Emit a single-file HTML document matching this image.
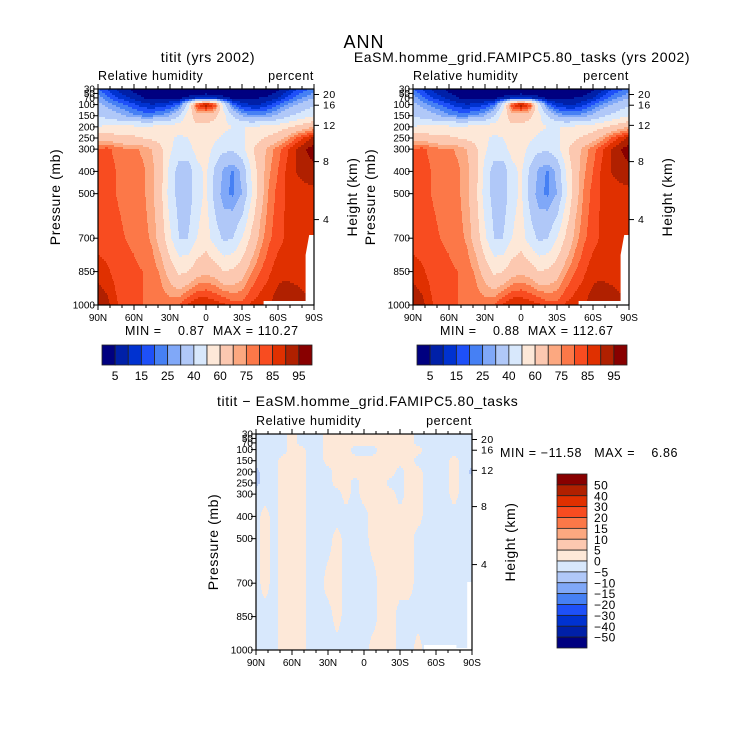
<!DOCTYPE html>
<html><head><meta charset="utf-8"><style>
html,body{margin:0;padding:0;background:#fff;}
svg{display:block;font-family:"Liberation Sans",sans-serif;}
text{fill:#000;}
</style></head><body>
<svg id="root" width="729" height="742" viewBox="0 0 729 742" xmlns="http://www.w3.org/2000/svg">
<text x="364" y="48" font-size="18" text-anchor="middle" letter-spacing="1">ANN</text>
</svg>
<script>
// ---- data ----
const lats=[90,82.5,75,67.5,60,52.5,45,37.5,30,22.5,15,7.5,0,-7.5,-15,-22.5,-30,-37.5,-45,-52.5,-60,-67.5,-75,-82.5,-90];
const levs=[30,50,70,100,150,200,250,300,400,500,700,850,1000];
const rh1=[
[20,15,10,6,4,3,3,3,3,3,3,3,3,3,3,3,3,3,3,3,4,8,14,18,22],
[24,18,12,8,5,4,3,3,3,3,3,3,4,3,3,3,3,3,3,4,6,12,18,22,26],
[28,22,16,12,8,5,4,4,4,4,6,10,14,10,6,4,4,4,5,6,10,16,22,26,30],
[32,28,24,20,16,12,10,12,14,20,45,85,95,85,45,20,12,10,10,14,20,25,30,34,38],
[40,36,33,30,26,24,24,26,30,40,55,65,65,62,52,40,30,26,26,28,32,38,42,46,50],
[50,52,52,52,52,52,52,54,55,55,56,58,58,56,52,50,50,50,52,52,55,58,62,66,70],
[66,66,64,62,62,60,58,56,52,48,50,55,58,52,48,46,48,54,58,62,66,72,80,86,92],
[80,82,78,76,76,74,70,62,52,44,46,54,56,46,42,42,46,58,66,72,78,84,90,95,97],
[84,84,80,78,78,76,72,64,46,36,34,46,52,38,28,24,32,50,66,74,80,86,90,92,94],
[84,82,80,79,78,76,72,62,45,36,34,46,52,36,26,24,30,48,66,76,82,86,88,88,88],
[82,82,81,80,79,77,74,66,52,40,40,50,55,45,38,40,50,62,72,79,83,86,86,86,86],
[88,86,83,82,81,80,78,74,66,58,60,66,68,66,60,62,66,74,80,84,88,88,86,86,86],
[94,92,86,82,80,80,79,78,78,80,86,90,90,88,86,82,82,86,88,90,93,96,96,92,92]];
const rh2=rh1;
const B=-2,P=2,D=-7;
const diff=[
[B,B,B,B,P,B,B,B,P,P,P,P,P,P,P,P,P,P,B,B,B,B,B,B,B],
[B,B,B,B,P,B,B,B,P,P,P,P,P,P,P,P,P,P,B,B,B,B,B,B,B],
[B,B,B,B,P,B,B,B,P,P,P,P,P,P,P,P,P,P,B,B,B,B,B,B,B],
[B,B,B,B,P,P,B,B,P,P,P,B,B,B,P,P,P,P,P,B,B,B,B,B,B],
[B,B,B,P,P,P,B,B,P,P,P,P,P,P,P,P,P,P,B,B,B,B,P,B,B],
[D,B,B,P,P,P,B,B,B,P,P,P,P,P,P,P,B,P,P,B,B,B,P,B,D],
[D,B,B,P,P,P,B,B,B,P,P,B,P,P,P,B,B,P,P,B,B,B,P,B,B],
[B,B,B,P,P,P,B,B,B,B,P,B,P,P,P,P,B,P,P,B,B,B,P,B,B],
[B,P,B,P,P,P,B,B,B,B,B,B,B,P,P,P,P,P,P,B,B,B,B,B,B],
[B,P,B,P,P,P,B,B,B,P,B,B,B,P,P,P,P,P,B,B,B,B,B,B,B],
[B,P,B,P,P,P,B,B,P,P,B,B,B,B,P,P,P,P,B,B,B,B,B,B,B],
[B,B,B,P,P,P,B,B,B,P,B,B,B,B,P,P,B,B,B,B,B,B,B,B,B],
[B,B,B,P,P,P,B,B,B,B,B,B,B,P,P,P,B,B,P,B,B,B,B,B,B]];
const rhBounds=[5,10,15,20,25,30,40,50,60,70,75,80,85,90,95];
const rhLabels=["5","15","25","40","60","75","85","95"];
const dfBounds=[-50,-40,-30,-20,-15,-10,-5,0,5,10,15,20,30,40,50];
const dfLabels=["50","40","30","20","15","10","5","0","\u22125","\u221210","\u221215","\u221220","\u221230","\u221240","\u221250"];
const pTicks=[30,50,70,100,150,200,250,300,400,500,700,850,1000];
const hTicks=[4,8,12,16,20];
const latTicks=[90,60,30,0,-30,-60,-90];
const latNames=["90N","60N","30N","0","30S","60S","90S"];
const colors=["#000080","#0020a8","#0032d0","#1e50f8","#4680f4","#80a8f8","#b0c8f8","#d8e8fc","#fde8d8","#fcc8b0","#fca880","#fc7848","#f84c20","#e03000","#b02000","#880000"];

const NS="http://www.w3.org/2000/svg";
const root=document.getElementById('root');
function el(tag,attrs,parent){const e=document.createElementNS(NS,tag);for(const k in attrs)e.setAttribute(k,attrs[k]);(parent||root).appendChild(e);return e;}
function txt(x,y,s,size,anchor,parent,ls){const t=el('text',{x:x,y:y,'font-size':size,'text-anchor':anchor||'start','letter-spacing':ls||0},parent);t.textContent=s;return t;}
function interp(arr,v){
  for(let i=0;i<arr.length-1;i++){const a=arr[i],b=arr[i+1];if((v-a)*(v-b)<=0){return [i,(v-a)/(b-a)];}}
  return [arr.length-2,1];
}
function field(grid,lat,p){
  const [j,fy]=interp(levs,p);const [i,fx]=interp(lats,lat);
  const a=grid[j][i],b=grid[j][i+1],c=grid[j+1][i],d=grid[j+1][i+1];
  return (a*(1-fx)+b*fx)*(1-fy)+(c*(1-fx)+d*fx)*fy;
}
function level(v,bounds){let k=0;while(k<bounds.length&&v>=bounds[k])k++;return k;}
function yOfP(y0,h,p){return y0+(p-30)/970*h;}
function xOfLat(x0,w,lat){return x0+(90-lat)/180*w;}
function pOfH(km){const h=km*1000;if(h<=11000)return 1013.25*Math.pow(1-2.2558e-5*h,5.256);return 226.3*Math.exp(-(h-11000)/6341.6);}

function panel(x0,y0,grid,bounds,name,opts){
  const w=216,h=216;
  const g=el('g',{});
  
  
  const step=2;
  for(let py=0;py<h;py+=step){
    const p=30+(py+step/2)/h*970;
    let runStart=0,runK=-1;
    for(let px=0;px<=w;px++){
      let k=-1;
      if(px<w){const lat=90-(px+0.5)/w*180;k=level(field(grid,lat,p),bounds);}
      if(k!==runK){
        if(runK>=0){const r=el('rect',{x:x0+runStart,y:y0+py,width:px-runStart,height:step,fill:colors[runK]},g);
          
          }
        runStart=px;runK=k;
      }
    }
  }
  let pts;
  if(opts.diff){
    pts=`${xOfLat(x0,w,-50)},${y0+h-5} ${xOfLat(x0,w,-77)},${y0+h-5} ${xOfLat(x0,w,-77)},${y0+h-2} ${xOfLat(x0,w,-86)},${y0+h-2} ${xOfLat(x0,w,-86)},${y0+h-68} ${x0+w},${y0+h-68} ${x0+w},${y0+h} ${xOfLat(x0,w,-50)},${y0+h}`;
  } else {
    pts=`${xOfLat(x0,w,-48)},${y0+h-4} ${xOfLat(x0,w,-83)},${y0+h-4} ${xOfLat(x0,w,-83)},${y0+h-50} ${xOfLat(x0,w,-86)},${y0+h-70} ${x0+w},${y0+h-70} ${x0+w},${y0+h} ${xOfLat(x0,w,-48)},${y0+h}`;
  }
  const m=el('polygon',{points:pts,fill:'#fff'},g);
  
  
  const fr=el('rect',{x:x0,y:y0,width:w,height:h,fill:'none',stroke:'#000','stroke-width':1.2},g);
  
  
  pTicks.forEach(p=>{const y=yOfP(y0,h,p);
    el('line',{x1:x0-5,x2:x0,y1:y,y2:y,stroke:'#000'},g);
    const t=txt(x0-3,y+3.5,String(p),10,'end',g);
    
    });
  hTicks.forEach(km=>{const y=yOfP(y0,h,pOfH(km));
    el('line',{x1:x0+w,x2:x0+w+5,y1:y,y2:y,stroke:'#000'},g);
    const t=txt(x0+w+9,y+3.5,String(km),10.5,'start',g,0.5);
    
    });
  for(let lat=90;lat>=-90;lat-=10){const x=xOfLat(x0,w,lat);const major=lat%30===0;
    el('line',{x1:x,x2:x,y1:y0+h,y2:y0+h+(major?5:3),stroke:'#000'},g);
    el('line',{x1:x,x2:x,y1:y0,y2:y0-(major?5:3),stroke:'#000'},g);}
  latTicks.forEach((lat,i)=>{const t=txt(xOfLat(x0,w,lat),y0+h+16,latNames[i],10,'middle',g);
    
    });
  const a=txt(x0,y0-9,'Relative humidity',12.5,'start',g,0.6);
  
  const u=txt(x0+w,y0-9,'percent',12.5,'end',g,0.6);
  
  const yt=txt(0,0,'Pressure (mb)',14,'middle',g,0.6);
  yt.setAttribute('transform',`translate(${x0-38},${y0+108}) rotate(-90)`);
  
  const ht=txt(0,0,'Height (km)',14,'middle',g,0.6);
  ht.setAttribute('transform',`translate(${x0+w+43},${y0+108}) rotate(-90)`);
  
  const ti=txt(opts.tx,opts.ty,opts.title,14,opts.ta,g,0.6);
  
  const mm=txt(opts.mx,opts.my,opts.minmax,12.5,'start',g,0.6);
  mm.setAttribute('xml:space','preserve');mm.setAttribute('style','white-space:pre');
  
}

function hbar(x0,y0,w,h,labels){
  const g=el('g',{});
  
  
  const n=colors.length,bw=w/n;
  colors.forEach((c,i)=>{const r=el('rect',{x:x0+i*bw,y:y0,width:bw,height:h,fill:c,stroke:'#222','stroke-width':0.8},g);
    });
  labels.forEach((s,i)=>{const t=txt(x0+(2*i+1)*bw,y0+h+15,s,12,'middle',g);
    });
}
function vbar(x0,y0,w,h,labels){
  const g=el('g',{});
  
  
  const n=colors.length,bh=h/n;
  colors.slice().reverse().forEach((c,i)=>{const r=el('rect',{x:x0,y:y0+i*bh,width:w,height:bh,fill:c,stroke:'#222','stroke-width':0.8},g);
    });
  labels.forEach((s,i)=>{const t=txt(x0+w+7,y0+(i+1)*bh+4.5,s,12,'start',g,0.5);
    });
}

panel(98,89,rh1,rhBounds,'panel-model1',{title:'titit (yrs 2002)',tx:208,ty:62,ta:'middle',mx:125,my:335,minmax:'MIN =    0.87  MAX = 110.27'});
hbar(102,345,210,20,rhLabels);
panel(413,89,rh2,rhBounds,'panel-model2',{title:'EaSM.homme_grid.FAMIPC5.80_tasks (yrs 2002)',tx:522,ty:62,ta:'middle',mx:440,my:335,minmax:'MIN =    0.88  MAX = 112.67'});
hbar(417,345,210,20,rhLabels);
panel(256,434,diff,dfBounds,'panel-difference',{title:'titit \u2212 EaSM.homme_grid.FAMIPC5.80_tasks',tx:217,ty:406,ta:'start',mx:500,my:457,minmax:'MIN = \u221211.58   MAX =    6.86',diff:true});
vbar(557,474,30,174,dfLabels);
</script>
</body></html>
